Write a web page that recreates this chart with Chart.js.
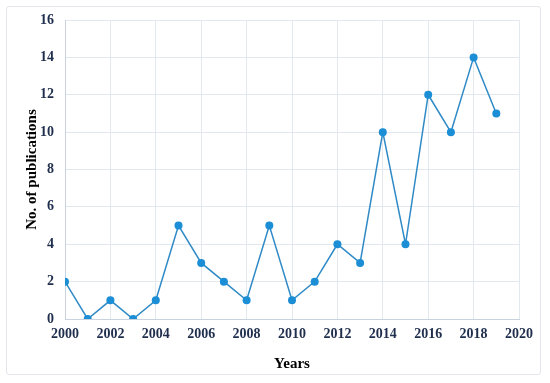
<!DOCTYPE html>
<html><head><meta charset="utf-8">
<script src="https://cdn.jsdelivr.net/npm/chart.js@4.4.0/dist/chart.umd.min.js"></script>
<style>
html,body{margin:0;padding:0;background:#fff;}
#wrap{position:relative;width:550px;height:383px;}
#frame{position:absolute;left:6px;top:6px;width:535px;height:369px;border:1px solid #e3e6ea;border-radius:3px;box-sizing:border-box;}
canvas{position:absolute;left:0;top:0;}
</style></head>
<body>
<div id="wrap"><div id="frame"></div><canvas id="c" width="550" height="383"></canvas></div>
<script>
const years = [2000,2001,2002,2003,2004,2005,2006,2007,2008,2009,2010,2011,2012,2013,2014,2015,2016,2017,2018,2019];
const publications = [2,0,1,0,1,5,3,2,1,5,1,2,4,3,10,4,12,10,14,11];
const xTitle = "Years";
const yTitle = "No. of publications";

const tickFont = {family:"'Liberation Serif','Times New Roman',serif", size:14, weight:'bold'};
const titleFont = {family:"'Liberation Serif','Times New Roman',serif", size:15, weight:'bold'};

new Chart(document.getElementById('c'), {
  type:'line',
  data:{datasets:[{
    data: years.map((y,i)=>({x:y, y:publications[i]})),
    borderColor:'#2f8ac6', borderWidth:1.5,
    pointRadius:4, pointBackgroundColor:'#1b8ed6', pointBorderColor:'#1b8ed6', pointBorderWidth:0,
    tension:0
  }]},
  options:{
    responsive:false, animation:false,
    layout:{padding:{left:0,right:31,top:20,bottom:0}},
    plugins:{legend:{display:false}, tooltip:{enabled:false}},
    scales:{
      x:{type:'linear', min:2000, max:2020,
        ticks:{stepSize:2, color:'#1f2e4d', font:tickFont, padding:7, callback:v=>String(v)},
        grid:{color:'#e3e8ef', drawTicks:false},
        border:{color:'#c9d3e0'},
        title:{display:true, text:xTitle, color:'#000', font:titleFont, padding:{top:0,bottom:10}},
        afterFit:s=>{s.height=64;}
      },
      y:{min:0, max:16,
        ticks:{stepSize:2, color:'#1f2e4d', font:tickFont, padding:11},
        grid:{color:'#e3e8ef', drawTicks:false},
        border:{color:'#c9d3e0'},
        title:{display:true, text:yTitle, color:'#000', font:titleFont, padding:{top:23,bottom:0}},
        afterFit:s=>{s.width=65;}
      }
    }
  }
});
</script>
</body></html>
